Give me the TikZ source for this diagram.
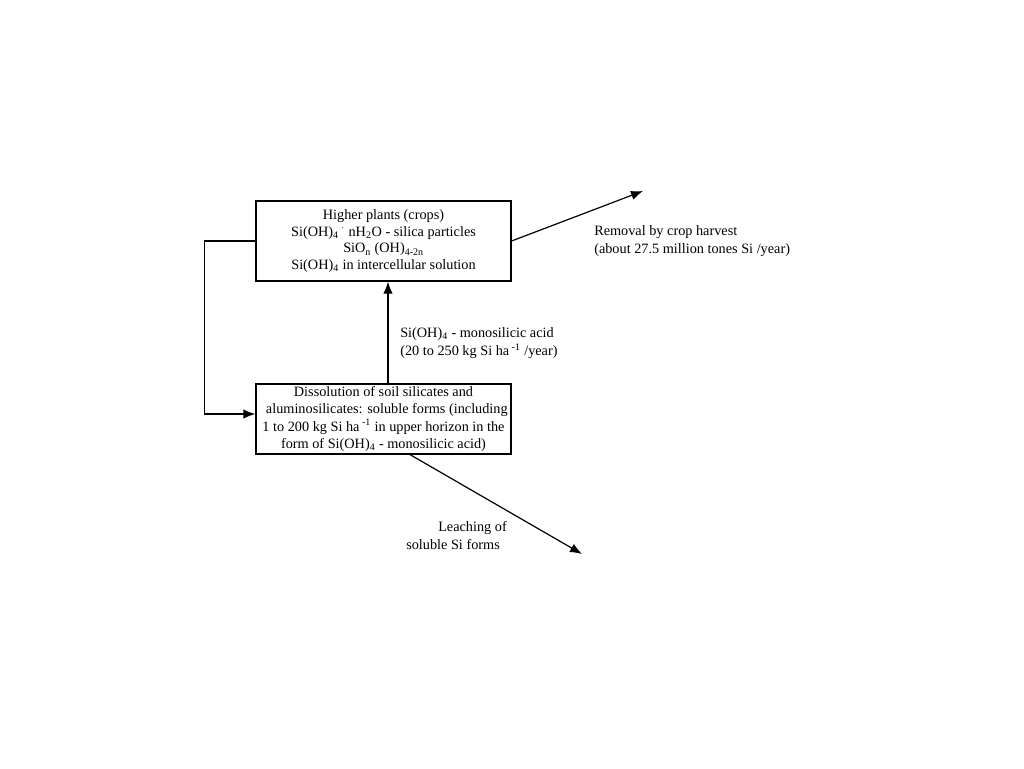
\documentclass[tikz,border=0pt]{standalone}
\usepackage{fontspec}
\setmainfont{Liberation Serif}
\usetikzlibrary{arrows.meta,calc}
\newcommand{\sbs}[1]{\textsubscript{#1}}
\begin{document}
\begin{tikzpicture}[x=0.75pt,y=-0.75pt,
  box/.style={draw,line width=0.9pt,minimum width=191.25pt,inner sep=0pt,align=center,font=\fontsize{10.7}{12.6}\selectfont},
  arr/.style={line width=0.9pt,-{Latex[length=9pt,width=7pt]}},
  lbl/.style={align=left,inner sep=0pt,font=\fontsize{10.7}{13.5}\selectfont}]
\useasboundingbox (0,0) rectangle (1024,768);
\node[box,minimum height=60pt] (top) at (383.5,241) {Higher plants (crops)\\Si(OH)\sbs{4}\,$^{\cdot}$ nH\sbs{2}O - silica particles\\SiO\sbs{n} (OH)\sbs{4-2n}\\Si(OH)\sbs{4} in intercellular solution};
\node[box,minimum height=52.5pt,font=\fontsize{10.7}{13}\selectfont] (bot) at (383.5,419) {Dissolution of soil silicates and\\\hspace*{5pt}aluminosilicates: soluble forms (including\\1 to 200 kg Si ha\textsuperscript{ -1} in upper horizon in the\\form of Si(OH)\sbs{4} - monosilicic acid)};
\coordinate (harv) at (643,191);
\coordinate (leach) at (582,554);
\draw[arr] ($(bot.north)+(4.5,0)$) -- ($(top.south)+(4.5,0)$);
\draw[arr] (top.west) -- ++(-51,0) |- ($(bot.west)+(0,-5)$);
\draw[arr] (top.east) -- (harv);
\draw[arr] ($(bot.south)+(26.5,0)$) -- (leach);
\node[lbl,anchor=west] (rl) at (594,241) {Removal by crop harvest\\(about 27.5 million tones Si /year)};
\node[lbl,anchor=west] (ml) at (400,343) {Si(OH)\sbs{4} - monosilicic acid\\(20 to 250 kg Si ha\textsuperscript{ -1} /year)};
\node[lbl,anchor=west] (ll) at (406,536) {\hspace*{24pt}Leaching of\\soluble Si forms};
\end{tikzpicture}
\end{document}
